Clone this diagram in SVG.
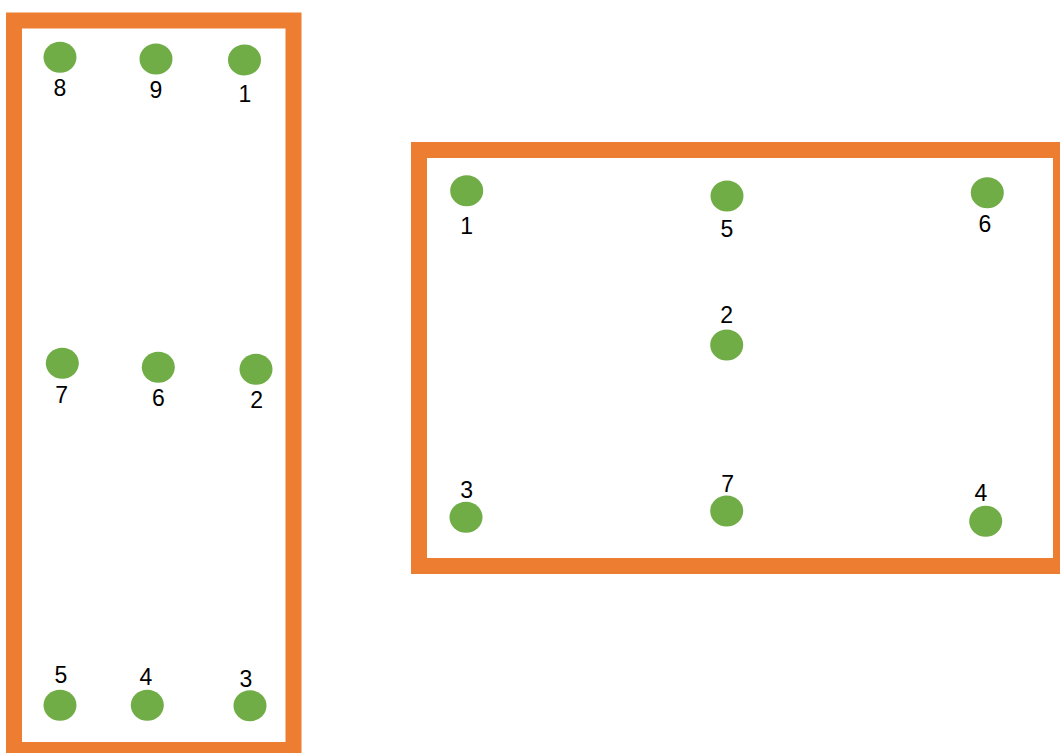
<svg xmlns="http://www.w3.org/2000/svg" width="1060" height="753" viewBox="0 0 1060 753">
<style>
.frame{fill:none;stroke:#ED7D31;stroke-width:16}
.dot{fill:#70AD47}
text{font-family:"Liberation Sans",Arial,sans-serif;font-size:23px;fill:#000;text-anchor:middle}
</style>
<rect width="1060" height="753" fill="#fff"/>
<g id="left-frame"><rect class="frame" x="14" y="20.5" width="279.5" height="729.5"/></g>
<g id="right-frame"><rect class="frame" x="419" y="150" width="642" height="416"/></g>
<g id="L8"><ellipse class="dot" cx="60" cy="57.3" rx="16.5" ry="15.5"/><text x="60" y="95.5">8</text></g>
<g id="L9"><ellipse class="dot" cx="156" cy="59" rx="16.5" ry="15.5"/><text x="156" y="97.5">9</text></g>
<g id="L1"><ellipse class="dot" cx="244.5" cy="60" rx="16.5" ry="15.5"/><text x="245" y="101.5">1</text></g>
<g id="L7"><ellipse class="dot" cx="62.3" cy="363.3" rx="16.5" ry="15.5"/><text x="61.7" y="403.3">7</text></g>
<g id="L6"><ellipse class="dot" cx="158.3" cy="367.3" rx="16.5" ry="15.5"/><text x="158.3" y="405.7">6</text></g>
<g id="L2"><ellipse class="dot" cx="256" cy="369.3" rx="16.5" ry="15.5"/><text x="256.7" y="408.3">2</text></g>
<g id="L5"><ellipse class="dot" cx="60" cy="705.3" rx="16.5" ry="15.5"/><text x="61" y="682.7">5</text></g>
<g id="L4"><ellipse class="dot" cx="147.3" cy="705.3" rx="16.5" ry="15.5"/><text x="146" y="685">4</text></g>
<g id="L3"><ellipse class="dot" cx="250" cy="705.7" rx="16.5" ry="15.5"/><text x="246" y="686.7">3</text></g>
<g id="R1"><ellipse class="dot" cx="466.7" cy="190.7" rx="16.5" ry="15.5"/><text x="466.7" y="234">1</text></g>
<g id="R5"><ellipse class="dot" cx="727" cy="196" rx="16.5" ry="15.5"/><text x="727" y="236.5">5</text></g>
<g id="R6"><ellipse class="dot" cx="987.3" cy="192.7" rx="16.5" ry="15.5"/><text x="985" y="232.3">6</text></g>
<g id="R2"><ellipse class="dot" cx="726.7" cy="345" rx="16.5" ry="15.5"/><text x="726.7" y="323.3">2</text></g>
<g id="R3"><ellipse class="dot" cx="466" cy="517.3" rx="16.5" ry="15.5"/><text x="466.7" y="498.3">3</text></g>
<g id="R7"><ellipse class="dot" cx="726.7" cy="511" rx="16.5" ry="15.5"/><text x="727.7" y="491.7">7</text></g>
<g id="R4"><ellipse class="dot" cx="985.7" cy="521.3" rx="16.5" ry="15.5"/><text x="981" y="500.7">4</text></g>
<g id="connectors"></g>
</svg>
